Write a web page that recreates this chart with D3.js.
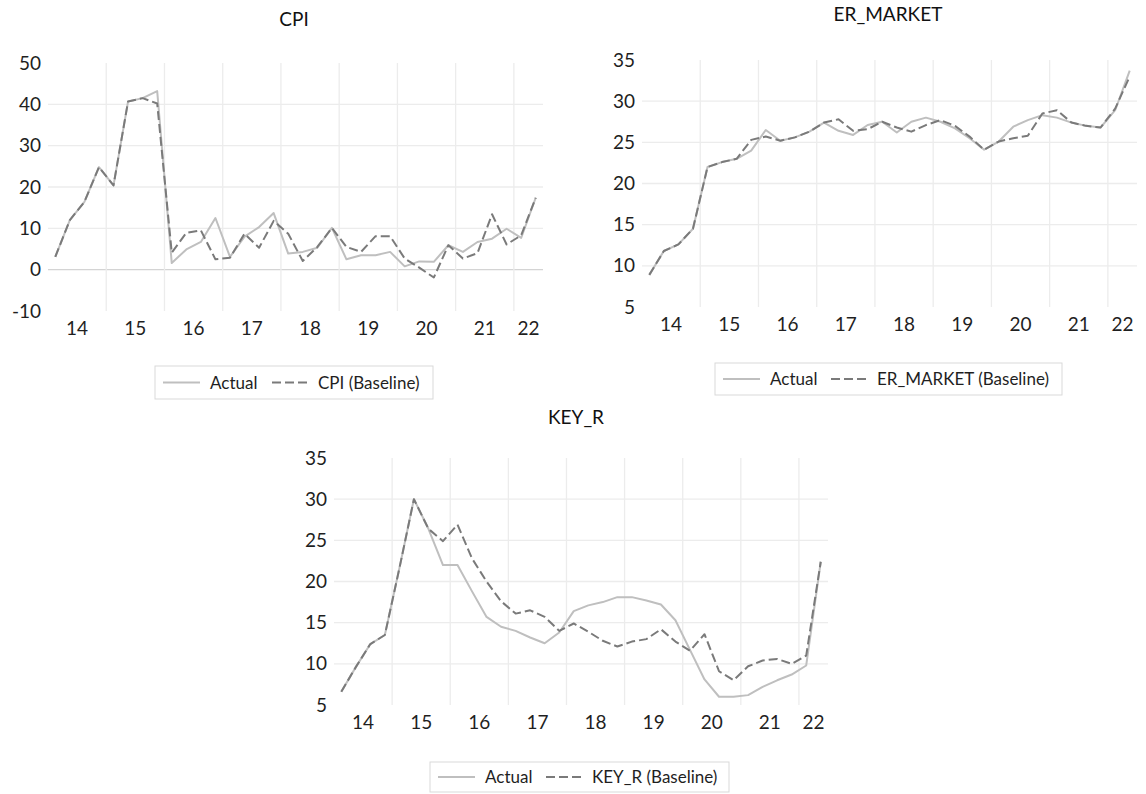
<!DOCTYPE html>
<html>
<head>
<meta charset="utf-8">
<script src="https://cdn.jsdelivr.net/npm/d3@7"></script>
<style>
  html, body { margin: 0; padding: 0; background: #fff; }
  svg { display: block; font-family: Lato, "Open Sans", sans-serif; }
</style>
</head>
<body>
<svg id="chart" width="1146" height="794"></svg>
<script>
// ---- data ----
const years = ["14","15","16","17","18","19","20","21","22"];
const quarterCounts = [4,4,4,4,4,4,4,4,2];
const quarters = [];
years.forEach((y, i) => { for (let q = 1; q <= quarterCounts[i]; q++) quarters.push(y + "Q" + q); });

const cpiActual   = [3.1,12,16.4,24.8,20.4,40.7,41.5,43.2,1.6,4.9,6.7,12.5,3.1,8.0,10.3,13.7,3.9,4.3,5.3,10.1,2.5,3.5,3.5,4.3,0.8,2.0,1.9,5.9,4.3,6.7,7.5,9.9,7.7,17.4];
const cpiBaseline = [3.1,12,16.4,24.8,20.4,40.7,41.5,40.2,4.1,8.9,9.5,2.5,2.9,8.7,5.3,11.8,8.7,2.1,5.5,10.1,5.5,4.3,8.1,8.1,2.7,0.5,-1.9,5.9,2.7,4.0,13.4,6.1,8.3,17.4];

const erActual   = [8.9,11.8,12.6,14.5,22.0,22.6,23.0,24.0,26.5,25.2,25.6,26.3,27.4,26.4,25.9,27.1,27.5,26.2,27.5,28.0,27.5,26.7,25.5,24.1,25.1,26.9,27.7,28.3,28.0,27.4,27.0,26.8,28.9,33.7];
const erBaseline = [8.9,11.8,12.6,14.5,22.0,22.6,23.0,25.3,25.7,25.2,25.6,26.3,27.4,27.8,26.4,26.6,27.5,26.8,26.3,27.1,27.7,27.0,25.7,24.1,25.1,25.5,25.8,28.5,28.9,27.4,27.0,26.8,29.1,33.0];

const keyActual   = [6.6,9.6,12.4,13.5,21.6,30.0,26.4,22.0,22.0,18.8,15.7,14.5,14.0,13.2,12.5,13.8,16.4,17.1,17.5,18.1,18.1,17.7,17.2,15.3,11.7,8.1,6.0,6.0,6.2,7.2,8.0,8.7,9.8,22.4];
const keyBaseline = [6.6,9.6,12.4,13.5,21.6,30.0,26.4,24.9,26.9,22.8,20.0,17.6,16.1,16.5,15.7,14.0,14.9,13.9,12.8,12.1,12.7,13.0,14.2,12.7,11.6,13.6,9.1,8.0,9.7,10.4,10.6,10.0,11.0,22.4];

const cpiTicks = [-10,0,10,20,30,40,50];
const erTicks  = [5,10,15,20,25,30,35];
const keyTicks = [5,10,15,20,25,30,35];

// ---- styles ----
const ACTUAL = "#bfbfbf", BASE = "#7a7a7a", GRID = "#ececec", ZERO = "#d4d4d4", TXT = "#1f1f1f";

const svg = d3.select("#chart");

function drawChart(cfg) {
  const g = svg.append("g");
  const x = d3.scaleBand().domain(quarters).range([cfg.left, cfg.right]).padding(0);
  const y = d3.scaleLinear().domain([cfg.ticks[0], cfg.ticks[cfg.ticks.length-1]]).range([cfg.bottom, cfg.top]);
  const cx = q => x(q) + x.bandwidth() / 2;

  // horizontal gridlines (not at the extremes)
  const inner = cfg.ticks.slice(1, -1);
  g.append("g").selectAll("line").data(inner).join("line")
    .attr("x1", cfg.left).attr("x2", cfg.right)
    .attr("y1", d => y(d)).attr("y2", d => y(d))
    .attr("stroke", d => d === 0 ? ZERO : GRID).attr("stroke-width", 1.3);

  // vertical year gridlines
  const boundaries = [];
  let idx = 0;
  quarterCounts.forEach((c, i) => { if (i > 0) boundaries.push(quarters[idx]); idx += c; });
  g.append("g").selectAll("line").data(boundaries).join("line")
    .attr("x1", d => x(d)).attr("x2", d => x(d))
    .attr("y1", cfg.top).attr("y2", cfg.bottom)
    .attr("stroke", GRID).attr("stroke-width", 1.3);

  // y tick labels
  const yAxis = d3.axisLeft(y).tickValues(cfg.ticks).tickSize(0).tickPadding(7)
    .tickFormat(d => String(d));
  const ya = g.append("g").attr("transform", `translate(${cfg.left},0)`).call(yAxis);
  ya.select(".domain").remove();
  ya.selectAll("text").attr("font-size", 19).attr("fill", TXT).attr("font-family", "Lato, sans-serif");

  // x year labels
  let start = 0;
  const yearPos = years.map((yr, i) => {
    const first = quarters[start], last = quarters[start + quarterCounts[i] - 1];
    start += quarterCounts[i];
    return { yr, c: (x(first) + x(last) + x.bandwidth()) / 2 };
  });
  g.append("g").selectAll("text").data(yearPos).join("text")
    .attr("x", d => d.c).attr("y", cfg.bottom + 24)
    .attr("text-anchor", "middle").attr("font-size", 19).attr("fill", TXT)
    .text(d => d.yr);

  // lines
  const line = d3.line().x((d, i) => cx(quarters[i])).y(d => y(d));
  g.append("path").datum(cfg.actual).attr("d", line)
    .attr("fill", "none").attr("stroke", ACTUAL).attr("stroke-width", 2).attr("stroke-linejoin", "round");
  g.append("path").datum(cfg.baseline).attr("d", line)
    .attr("fill", "none").attr("stroke", BASE).attr("stroke-width", 2)
    .attr("stroke-dasharray", "9,4").attr("stroke-linejoin", "round");

  // title
  g.append("text").attr("x", cfg.titleX).attr("y", cfg.titleY)
    .attr("text-anchor", "middle").attr("font-size", 19).attr("fill", "#111").text(cfg.title);

  // legend
  const L = cfg.legend;
  g.append("rect").attr("x", L.x).attr("y", L.y).attr("width", L.w).attr("height", L.h)
    .attr("fill", "#fff").attr("stroke", "#d9d9d9").attr("stroke-width", 1);
  const ly = L.y + L.h / 2;
  g.append("line").attr("x1", L.x + 8).attr("x2", L.x + 45).attr("y1", ly).attr("y2", ly)
    .attr("stroke", ACTUAL).attr("stroke-width", 2);
  g.append("text").attr("x", L.x + 55).attr("y", ly + 6).attr("font-size", 17).attr("fill", TXT).text("Actual");
  g.append("line").attr("x1", L.x + L.d).attr("x2", L.x + L.d + 37).attr("y1", ly).attr("y2", ly)
    .attr("stroke", BASE).attr("stroke-width", 2).attr("stroke-dasharray", "9,4");
  g.append("text").attr("x", L.x + L.d + 46).attr("y", ly + 6).attr("font-size", 17).attr("fill", TXT)
    .text(cfg.title + " (Baseline)");
}

drawChart({ title: "CPI", left: 48, right: 543, top: 63, bottom: 311, ticks: cpiTicks,
  actual: cpiActual, baseline: cpiBaseline, titleX: 294, titleY: 26,
  legend: { x: 155, y: 366, w: 278, h: 33, d: 117 } });

drawChart({ title: "ER_MARKET", left: 642, right: 1137, top: 60, bottom: 307, ticks: erTicks,
  actual: erActual, baseline: erBaseline, titleX: 888, titleY: 21,
  legend: { x: 715, y: 363, w: 347, h: 32, d: 116 } });

drawChart({ title: "KEY_R", left: 334, right: 828, top: 458, bottom: 705, ticks: keyTicks,
  actual: keyActual, baseline: keyBaseline, titleX: 576, titleY: 424,
  legend: { x: 430, y: 762, w: 299, h: 30, d: 116 } });
</script>
</body>
</html>
